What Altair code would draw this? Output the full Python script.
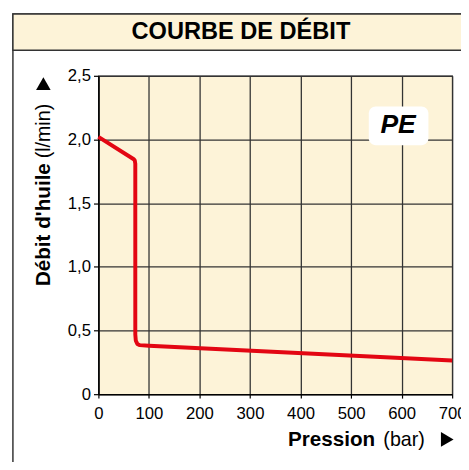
import altair as alt
import pandas as pd

# ---- data ----
pressure = [0, 70, 72, 73, 73, 74, 77, 82, 100, 700]
flow = [2.02, 1.845, 1.835, 1.81, 0.47, 0.42, 0.395, 0.385, 0.38, 0.265]
x_ticks = [0, 100, 200, 300, 400, 500, 600, 700]
y_ticks = [0, 0.5, 1.0, 1.5, 2.0, 2.5]
title_text = "COURBE DE DÉBIT"
x_title_bold, x_title_unit = "Pression", "(bar)"
y_title_bold, y_title_unit = "Débit d'huile", "(l/min)"
label_text = "PE"
label_box = {"x": 535, "x2": 653, "y": 2.26, "y2": 1.955, "tx": 593, "ty": 2.11}

BEIGE = "#fdf3d8"
RED = "#e30613"
FONT = "Liberation Sans"

W, H = 360, 324
df = pd.DataFrame({"p": pressure, "q": flow})

xscale = alt.Scale(domain=[0, 700], nice=False, zero=False)
yscale = alt.Scale(domain=[0, 2.5], nice=False)

one = alt.Data(values=[{}])

# frame and title band (pixel positions relative to plot origin)
frame = alt.Chart(one).mark_rect(fill="transparent", stroke="#333", strokeWidth=1.5).encode(
    x=alt.value(-87), x2=alt.value(420), y=alt.value(-63), y2=alt.value(430)
)
band = alt.Chart(one).mark_rect(fill=BEIGE, stroke="#333", strokeWidth=1.5).encode(
    x=alt.value(-87), x2=alt.value(420), y=alt.value(-63), y2=alt.value(-26)
)
title = alt.Chart(one).mark_text(
    text=title_text, font=FONT, fontSize=24, fontWeight="bold", align="center",
    baseline="alphabetic", color="black"
).encode(x=alt.value(145), y=alt.value(-37))

line = alt.Chart(df).mark_line(color=RED, strokeWidth=4, strokeJoin="round", strokeCap="butt").encode(
    x=alt.X("p:Q", scale=xscale, axis=alt.Axis(
        values=x_ticks, title=None, labelFontSize=17, labelFont=FONT, labelColor="black",
        tickSize=4, labelPadding=8, grid=True, labelFlush=False)),
    y=alt.Y("q:Q", scale=yscale, axis=alt.Axis(
        values=y_ticks, title=None, labelFontSize=17, labelFont=FONT, labelColor="black",
        tickSize=5, labelPadding=3, grid=True,
        labelExpr="datum.value == 0 ? '0' : replace(format(datum.value, '.1f'), '.', ',')")),
    order=alt.Order("idx:Q"),
).transform_window(idx="row_number()")

box = alt.Chart(alt.Data(values=[label_box])).mark_rect(fill="white", cornerRadius=7).encode(
    x=alt.X("x:Q", scale=xscale), x2="x2:Q", y=alt.Y("y:Q", scale=yscale), y2="y2:Q"
)
pe = alt.Chart(alt.Data(values=[label_box])).mark_text(
    text=label_text, font=FONT, fontSize=27, fontWeight="bold", fontStyle="italic",
    color="black", align="center", baseline="middle"
).encode(x=alt.X("tx:Q", scale=xscale), y=alt.Y("ty:Q", scale=yscale))

# axis titles
xt1 = alt.Chart(one).mark_text(text=x_title_bold, font=FONT, fontSize=21, fontWeight="bold",
                               align="left", baseline="alphabetic", color="black").encode(
    x=alt.value(193), y=alt.value(377))
xt2 = alt.Chart(one).mark_text(text=x_title_unit, font=FONT, fontSize=20,
                               align="left", baseline="alphabetic", color="black").encode(
    x=alt.value(290), y=alt.value(377))
xtri = alt.Chart(one).mark_point(shape="triangle-right", filled=True, color="black", size=220, opacity=1).encode(
    x=alt.value(355), y=alt.value(370))

yt1 = alt.Chart(one).mark_text(text=y_title_bold, font=FONT, fontSize=21, fontWeight="bold", angle=270,
                               align="left", baseline="middle", color="black").encode(
    x=alt.value(-55), y=alt.value(214))
yt2 = alt.Chart(one).mark_text(text=y_title_unit, font=FONT, fontSize=20, angle=270,
                               align="left", baseline="middle", color="black").encode(
    x=alt.value(-55), y=alt.value(84))
ytri = alt.Chart(one).mark_point(shape="triangle-up", filled=True, color="black", size=220, opacity=1).encode(
    x=alt.value(-56), y=alt.value(8))

chart = alt.layer(
    frame, band, title, box, line, pe, xt1, xt2, xtri, yt1, yt2, ytri
).properties(
    width=W, height=H,
    padding={"left": 92, "top": 65, "right": 9, "bottom": 65},
    autosize=alt.AutoSizeParams(type="none"),
).configure_view(
    fill=BEIGE, stroke="#222", strokeWidth=1.2
).configure_axis(
    gridColor="#333", gridWidth=1.3, gridOpacity=1,
    domainColor="black", domainWidth=1.5, tickColor="black", tickWidth=1.2,
)

chart.save("out.html", embed_options={"renderer": "svg", "actions": False})
